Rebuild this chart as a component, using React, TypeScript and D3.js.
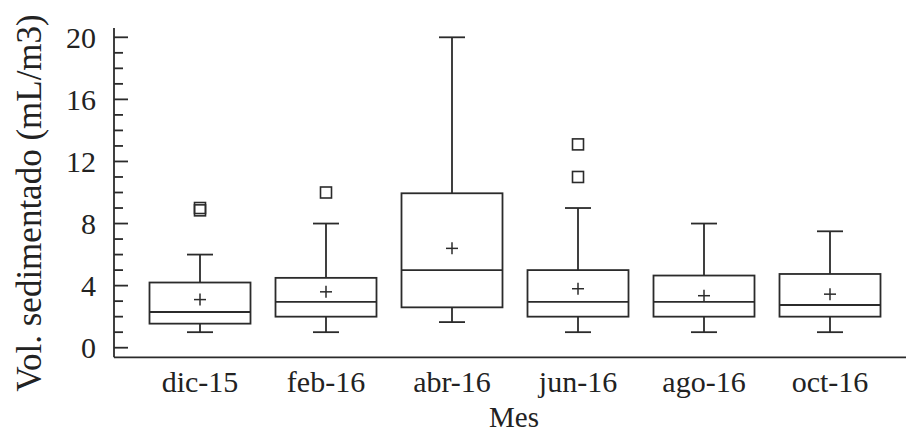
import React from "react";
import * as d3 from "d3";

const categories = ["dic-15", "feb-16", "abr-16", "jun-16", "ago-16", "oct-16"];
const q1 = [1.55, 2.0, 2.6, 2.0, 2.0, 2.0];
const medians = [2.3, 2.95, 5.0, 2.95, 2.95, 2.75];
const q3 = [4.2, 4.5, 9.95, 5.0, 4.65, 4.75];
const whiskLow = [1.0, 1.0, 1.65, 1.0, 1.0, 1.0];
const whiskHigh = [6.0, 8.0, 20.0, 9.0, 8.0, 7.5];
const means = [3.1, 3.6, 6.4, 3.8, 3.35, 3.45];
const outliers: number[][] = [[8.85, 9.0], [10.0], [], [11.0, 13.1], [], []];
const yMajorTicks = [0, 4, 8, 12, 16, 20];
const yMinorTicks = d3.range(0, 21, 1);

export default function App() {
  const W = 906, H = 435;
  const x = d3.scalePoint<string>().domain(categories).range([200, 830]);
  const y = d3.scaleLinear().domain([0, 20]).range([347.7, 37.3]);
  const axisX = 114;
  const axisY = 357.3;
  const boxW = 101;
  const capW = 26;
  const stroke = "#2b2b2b";
  const sw = 1.8;
  const font = "'Liberation Serif', 'Times New Roman', serif";

  return (
    <svg width={W} height={H} style={{ position: "absolute", left: 0, top: 0, background: "#fff" }}>
      {/* axes */}
      <line x1={axisX} x2={axisX} y1={y(20.6)} y2={axisY} stroke={stroke} strokeWidth={sw} />
      <line x1={axisX} x2={W} y1={axisY} y2={axisY} stroke={stroke} strokeWidth={sw} />
      {yMinorTicks.map((t) => (
        <line key={"mt" + t} x1={axisX} x2={axisX + (t % 4 === 0 ? 14 : 9)} y1={y(t)} y2={y(t)} stroke={stroke} strokeWidth={sw} />
      ))}
      {yMajorTicks.map((t) => (
        <text key={"yl" + t} x={axisX - 18} y={y(t)} dy="0.34em" textAnchor="end" fontFamily={font} fontSize={30} fill="#222">
          {t}
        </text>
      ))}
      {categories.map((c) => (
        <text key={"xl" + c} x={x(c)} y={392} textAnchor="middle" fontFamily={font} fontSize={30} fill="#222">
          {c}
        </text>
      ))}
      <text x={514} y={427} textAnchor="middle" fontFamily={font} fontSize={29} fill="#222">Mes</text>
      <text transform={`translate(41, ${203}) rotate(-90)`} textAnchor="middle" fontFamily={font} fontSize={35} fill="#222">
        Vol. sedimentado (mL/m3)
      </text>
      {/* boxes */}
      {categories.map((c, i) => {
        const cx = x(c)!;
        return (
          <g key={"b" + c} stroke={stroke} strokeWidth={sw} fill="none">
            <line x1={cx} x2={cx} y1={y(q3[i])} y2={y(whiskHigh[i])} />
            <line x1={cx} x2={cx} y1={y(q1[i])} y2={y(whiskLow[i])} />
            <line x1={cx - capW / 2} x2={cx + capW / 2} y1={y(whiskHigh[i])} y2={y(whiskHigh[i])} />
            <line x1={cx - capW / 2} x2={cx + capW / 2} y1={y(whiskLow[i])} y2={y(whiskLow[i])} />
            <rect x={cx - boxW / 2} y={y(q3[i])} width={boxW} height={y(q1[i]) - y(q3[i])} />
            <line x1={cx - boxW / 2} x2={cx + boxW / 2} y1={y(medians[i])} y2={y(medians[i])} />
            <line x1={cx - 6} x2={cx + 6} y1={y(means[i])} y2={y(means[i])} strokeWidth={1.5} />
            <line x1={cx} x2={cx} y1={y(means[i]) - 6} y2={y(means[i]) + 6} strokeWidth={1.5} />
            {outliers[i].map((o, j) => (
              <rect key={j} x={cx - 5.5} y={y(o) - 5.5} width={11} height={11} strokeWidth={1.6} />
            ))}
          </g>
        );
      })}
    </svg>
  );
}
